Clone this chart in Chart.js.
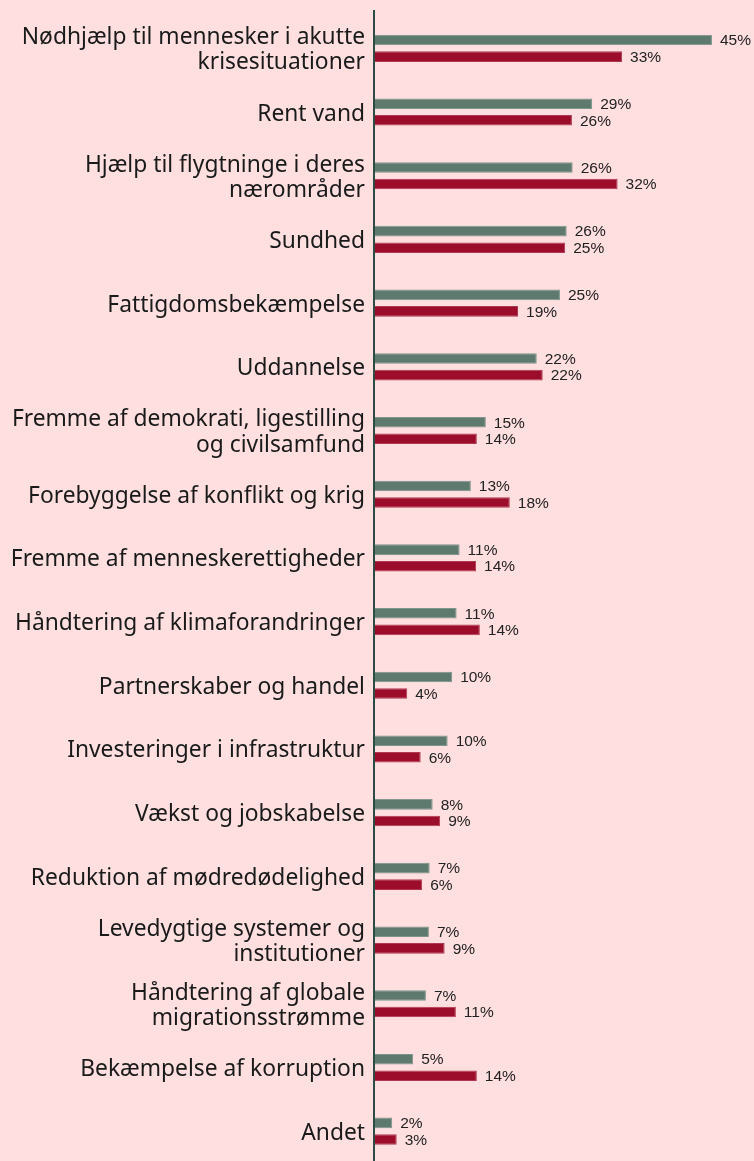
<!DOCTYPE html>
<html>
<head>
<meta charset="utf-8">
<script src="https://cdn.jsdelivr.net/npm/chart.js@4"></script>
<style>
html,body{margin:0;padding:0;background:#ffdfe0;overflow:hidden;}
canvas{display:block;}
</style>
</head>
<body>
<canvas id="chart" width="754" height="1163"></canvas>
<script>
// Categories (multi-line labels as arrays)
const categories = [
  ['Nødhjælp til mennesker i akutte', 'krisesituationer'],
  'Rent vand',
  ['Hjælp til flygtninge i deres', 'nærområder'],
  'Sundhed',
  'Fattigdomsbekæmpelse',
  'Uddannelse',
  ['Fremme af demokrati, ligestilling', 'og civilsamfund'],
  'Forebyggelse af konflikt og krig',
  'Fremme af menneskerettigheder',
  'Håndtering af klimaforandringer',
  'Partnerskaber og handel',
  'Investeringer i infrastruktur',
  'Vækst og jobskabelse',
  'Reduktion af mødredødelighed',
  ['Levedygtige systemer og', 'institutioner'],
  ['Håndtering af globale', 'migrationsstrømme'],
  'Bekæmpelse af korruption',
  'Andet'
];

// Series values (%)
const seriesGreen = [45, 29, 26.4, 25.6, 24.7, 21.6, 14.8, 12.8, 11.3, 10.9, 10.3, 9.7, 7.7, 7.3, 7.2, 6.8, 5.1, 2.3];
const seriesRed   = [33, 26.3, 32.4, 25.4, 19.1, 22.4, 13.6, 18, 13.5, 14, 4.3, 6.1, 8.7, 6.3, 9.3, 10.8, 13.6, 2.9];

const xMin = 0, xMax = 50;

// background
const bgPlugin = {
  id: 'bg',
  beforeDraw(chart){
    const c = chart.ctx;
    c.save(); c.fillStyle = '#ffdfe0'; c.fillRect(0,0,chart.width,chart.height); c.restore();
  }
};

// vertical axis line
const axisLine = {
  id: 'axisLine',
  afterDatasetsDraw(chart){
    const c = chart.ctx, x = chart.chartArea.left - 1;
    c.save();
    c.strokeStyle = '#2c4c45'; c.lineWidth = 2;
    c.beginPath(); c.moveTo(x, 10); c.lineTo(x, chart.height); c.stroke();
    c.restore();
  }
};

// value labels at bar ends
const valueLabels = {
  id: 'valueLabels',
  afterDatasetsDraw(chart){
    const c = chart.ctx;
    c.save();
    c.font = '15.5px "Liberation Sans", Arial, sans-serif';
    c.fillStyle = '#222';
    c.textBaseline = 'middle';
    c.textAlign = 'left';
    chart.data.datasets.forEach((ds, i) => {
      chart.getDatasetMeta(i).data.forEach((bar, j) => {
        c.fillText(Math.round(ds.data[j]) + '%', bar.x + 8, bar.y + 1);
      });
    });
    c.restore();
  }
};

new Chart(document.getElementById('chart'), {
  type: 'bar',
  data: {
    labels: categories,
    datasets: [
      {data: seriesGreen, backgroundColor: '#5e7a6f', borderColor: '#7d958b', borderWidth: 1, borderSkipped: 'left'},
      {data: seriesRed, backgroundColor: '#9b0d2b', borderColor: '#b13a52', borderWidth: 1, borderSkipped: 'left'}
    ]
  },
  options: {
    indexAxis: 'y',
    responsive: false,
    animation: false,
    layout: {padding: {top: 16.5, right: 4.6, bottom: 0, left: 0}},
    categoryPercentage: 0.52,
    barPercentage: 0.64,
    plugins: {legend: {display: false}, tooltip: {enabled: false}},
    scales: {
      x: {display: false, min: xMin, max: xMax},
      y: {
        afterFit(scale){ scale.width = 375; scale.paddingTop = 0; scale.paddingBottom = 0; },
        grid: {display: false, drawTicks: false},
        border: {display: false},
        ticks: {
          padding: 10,
          labelOffset: 2,
          color: '#1a1a1a',
          font: {family: '"Noto Sans", sans-serif', size: 22.8, lineHeight: 1.1}
        }
      }
    }
  },
  plugins: [bgPlugin, valueLabels, axisLine]
});
</script>
</body>
</html>
